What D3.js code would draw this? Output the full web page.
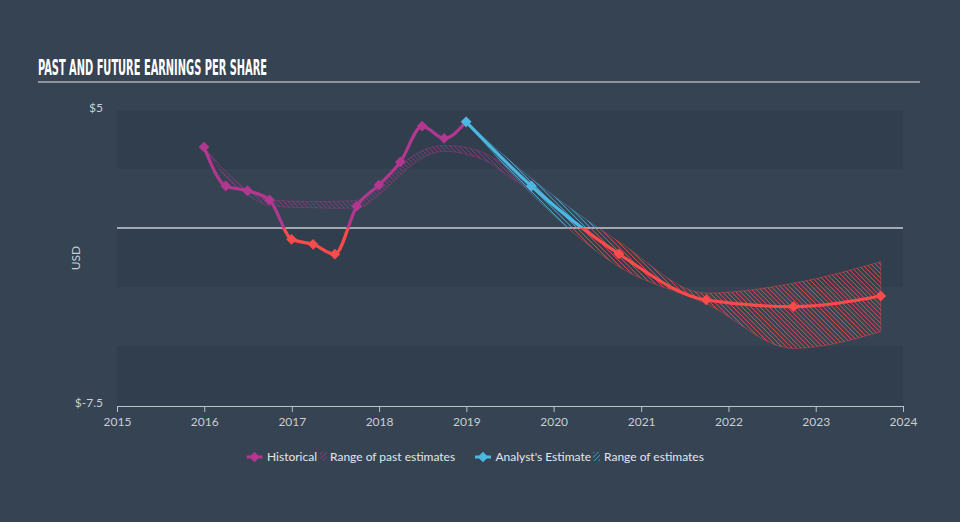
<!DOCTYPE html>
<html><head><meta charset="utf-8">
<script src="https://cdn.jsdelivr.net/npm/d3@7"></script>
<style>html,body{margin:0;padding:0;background:#354353;} svg{display:block;}</style>
</head><body>
<svg id="c" width="960" height="522"></svg>
<script>
// ---- data ----
const histDates = ["2015-12-31","2016-03-31","2016-06-30","2016-09-30","2016-12-31","2017-03-31","2017-06-30","2017-09-30","2017-12-31","2018-03-31","2018-06-30","2018-09-30","2018-12-31"];
const histEPS = [3.43,1.78,1.58,1.19,-0.48,-0.69,-1.11,0.93,1.82,2.80,4.32,3.80,4.50];

const pastDates = ["2015-12-31","2016-03-31","2016-06-30","2016-09-30","2016-12-31","2017-03-31","2017-06-30","2017-09-30","2017-12-31","2018-03-31","2018-06-30","2018-09-30","2018-12-31","2019-03-31","2019-06-30","2019-09-30"];
const pastLow  = [3.43,2.17,1.40,0.95,0.88,0.86,0.84,0.84,1.40,2.25,2.96,3.25,3.13,2.80,2.17,1.54];
const pastHigh = [3.43,2.39,1.61,1.19,1.14,1.12,1.13,1.17,1.82,2.67,3.28,3.50,3.42,3.10,2.55,1.82];

const fcDates = ["2018-12-31","2019-09-30","2020-09-30","2021-09-30","2022-09-30","2023-09-30"];
const fcEPS  = [4.50,1.78,-1.10,-3.05,-3.33,-2.88];
const fcLow  = [4.50,1.45,-1.64,-3.20,-5.10,-4.39];
const fcHigh = [4.50,2.10,-0.58,-2.76,-2.34,-1.43];

const xTickYears = [2015,2016,2017,2018,2019,2020,2021,2022,2023,2024];
const yTickValues = [5,-7.5];
const yTickLabels = ["$5","$-7.5"];
const bandEdges = [5,2.5,0,-2.5,-5,-7.5];

// ---- setup ----
const C = {magenta:"#b1378f", blue:"#4bb8e1", red:"#fd4a4a", text:"#c9ced4"};
const parse = d3.timeParse("%Y-%m-%d");
const svg = d3.select("#c");
const x = d3.scaleTime().domain([new Date(2015,0,1), new Date(2024,0,1)]).range([117,903]);
const y = d3.scaleLinear().domain([-7.5,5]).range([405,110]);

svg.append("rect").attr("width",960).attr("height",522).attr("fill","#354353");

const defs = svg.append("defs");
function hatch(id,color,op,w,rot){
  const p = defs.append("pattern").attr("id",id).attr("patternUnits","userSpaceOnUse")
    .attr("width",3.2).attr("height",3.2).attr("patternTransform",`rotate(${rot})`);
  p.append("line").attr("x1",0).attr("y1",0).attr("x2",0).attr("y2",3.2)
    .attr("stroke",color).attr("stroke-width",w).attr("stroke-opacity",op);
}
hatch("hPast","#b1378f",0.8,1.3,-45);
hatch("hBlue","#4bb8e1",0.9,1.5,-45);
hatch("hRed","#fd4a4a",0.85,1.6,-45);
hatch("lPast","#b1378f",0.9,1.2,45);
hatch("lBlue","#4bb8e1",0.9,1.2,45);
defs.append("clipPath").attr("id","above").append("rect")
  .attr("x",0).attr("y",0).attr("width",960).attr("height",y(0));
defs.append("clipPath").attr("id","below").append("rect")
  .attr("x",0).attr("y",y(0)).attr("width",960).attr("height",522-y(0));

// title
svg.append("text").attr("x",38).attr("y",75).text("PAST AND FUTURE EARNINGS PER SHARE")
  .attr("font-family","'Liberation Sans Narrow','DejaVu Sans Condensed',sans-serif")
  .attr("font-weight","bold").attr("font-size",20.5).attr("fill","#ffffff")
  .attr("textLength",229).attr("lengthAdjust","spacingAndGlyphs");
svg.append("line").attr("x1",38).attr("x2",920).attr("y1",82).attr("y2",82)
  .attr("stroke","#aab1b9").attr("stroke-width",1.5);

// bands
for (let i=0;i<bandEdges.length-1;i+=2){
  svg.append("rect").attr("x",x.range()[0]).attr("width",x.range()[1]-x.range()[0])
    .attr("y",y(bandEdges[i])).attr("height",y(bandEdges[i+1])-y(bandEdges[i]))
    .attr("fill","#000").attr("fill-opacity",0.065);
}

// y labels
svg.selectAll(".yl").data(yTickValues).enter().append("text")
  .attr("x",103).attr("y",d=>y(d)+2).attr("text-anchor","end")
  .attr("font-family","Lato,sans-serif").attr("font-size",12).attr("fill",C.text)
  .text((d,i)=>yTickLabels[i]);
svg.append("text").attr("transform","translate(80,258) rotate(-90)").attr("text-anchor","middle")
  .attr("font-family","Lato,sans-serif").attr("font-size",12).attr("fill",C.text).text("USD");

// x axis
const xAxis = d3.axisBottom(x).tickValues(xTickYears.map(d=>new Date(d,0,1)))
  .tickFormat(d3.timeFormat("%Y")).tickSize(6).tickSizeOuter(0);
const gx = svg.append("g").attr("transform",`translate(0,${y(-7.5)+1})`).call(xAxis);
gx.select(".domain").attr("stroke","#b8c0c8");
gx.selectAll(".tick line").attr("stroke","#b8c0c8");
gx.selectAll(".tick text").attr("font-family","Lato,sans-serif").attr("font-size",12)
  .attr("fill",C.text).attr("dy","0.9em");

// zero line
svg.append("line").attr("x1",117).attr("x2",903).attr("y1",y(0)).attr("y2",y(0))
  .attr("stroke","#c8ccd0").attr("stroke-width",1.5);

const curve = d3.curveMonotoneX;
// past estimates band
const past = pastDates.map((d,i)=>({d:parse(d),lo:pastLow[i],hi:pastHigh[i]}));
const areaP = d3.area().curve(curve).x(d=>x(d.d)).y0(d=>y(d.lo)).y1(d=>y(d.hi));
svg.append("path").datum(past).attr("d",areaP).attr("fill","url(#hPast)")
  .attr("stroke","#b1378f").attr("stroke-opacity",0.5).attr("stroke-width",0.8);

// forecast band
const fc = fcDates.map((d,i)=>({d:parse(d),v:fcEPS[i],lo:fcLow[i],hi:fcHigh[i]}));
[["above","hBlue",C.blue],["below","hRed",C.red]].forEach(([clip,pat,col])=>{
  svg.append("path").datum(fc).attr("d",areaP).attr("clip-path",`url(#${clip})`)
    .attr("fill",`url(#${pat})`).attr("stroke",col).attr("stroke-opacity",0.5).attr("stroke-width",0.8);
});

// lines
const hist = histDates.map((d,i)=>({d:parse(d),v:histEPS[i]}));
const line = d3.line().curve(curve).x(d=>x(d.d)).y(d=>y(d.v));
[["above",C.magenta],["below",C.red]].forEach(([clip,col])=>{
  svg.append("path").datum(hist).attr("d",line).attr("clip-path",`url(#${clip})`)
    .attr("fill","none").attr("stroke",col).attr("stroke-width",3.2);
});
[["above",C.blue],["below",C.red]].forEach(([clip,col])=>{
  svg.append("path").datum(fc).attr("d",line).attr("clip-path",`url(#${clip})`)
    .attr("fill","none").attr("stroke",col).attr("stroke-width",3.2);
});

// markers
const sym = d3.symbol().type(d3.symbolSquare).size(58);
svg.selectAll(".hm").data(hist).enter().append("path").attr("d",sym)
  .attr("transform",d=>`translate(${x(d.d)},${y(d.v)}) rotate(45)`)
  .attr("fill",d=>d.v>=0?C.magenta:C.red);
svg.selectAll(".fm").data(fc).enter().append("path").attr("d",sym)
  .attr("transform",d=>`translate(${x(d.d)},${y(d.v)}) rotate(45)`)
  .attr("fill",d=>d.v>=0?C.blue:C.red);

// legend
const lg = svg.append("g").attr("font-family","Lato,sans-serif").attr("font-size",12).attr("fill","#e4e6e9");
function legMarker(cx,col){
  lg.append("line").attr("x1",cx-8).attr("x2",cx+8).attr("y1",457).attr("y2",457).attr("stroke",col).attr("stroke-width",3);
  lg.append("path").attr("d",d3.symbol().type(d3.symbolSquare).size(55)).attr("fill",col)
    .attr("transform",`translate(${cx},457) rotate(45)`);
}
function legHatch(x0,pat){
  lg.append("rect").attr("x",x0).attr("y",452).attr("width",7).attr("height",9).attr("fill",`url(#${pat})`);
}
legMarker(254.5,C.magenta);
lg.append("text").attr("x",267).attr("y",461).text("Historical");
legHatch(320,"lPast");
lg.append("text").attr("x",330).attr("y",461).text("Range of past estimates");
legMarker(483,C.blue);
lg.append("text").attr("x",495.5).attr("y",461).text("Analyst's Estimate");
legHatch(593,"lBlue");
lg.append("text").attr("x",604).attr("y",461).text("Range of estimates");
</script>
</body></html>
